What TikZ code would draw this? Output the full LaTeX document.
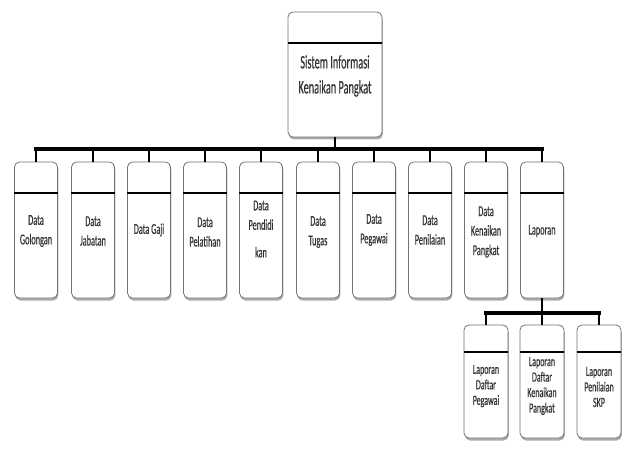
\documentclass[tikz,border=0pt]{standalone}
\usepackage{fontspec}
\usetikzlibrary{shadows}
\newfontfamily\condfont[FakeStretch=0.55,FakeBold=0.4]{Carlito}
\newfontfamily\topfont[FakeStretch=0.54,FakeBold=0.4]{Carlito}
\newfontfamily\subfont[FakeStretch=0.57,FakeBold=0.4]{Carlito}
\tikzset{
  box/.style={draw=black!55, line width=0.8pt, fill=white, rounded corners=5pt,
    drop shadow={shadow xshift=0.8pt, shadow yshift=-2.5pt, fill=black!60, opacity=0.55},
    minimum width=43pt, inner sep=0pt},
  topbox/.style={box, minimum width=94pt, minimum height=125pt},
  databox/.style={box, minimum height=136pt},
  subbox/.style={box, minimum width=44pt, minimum height=113pt},
  divider/.style={line width=1.5pt},
  bar/.style={line width=3.5pt, line cap=rect},
  conn/.style={line width=2.2pt},
  lbl/.style={align=center, inner sep=0pt, text=black!80, font=\condfont\fontsize{15}{19.5}\selectfont},
  toplbl/.style={lbl, font=\topfont\fontsize{19}{25}\selectfont},
  sublbl/.style={lbl, font=\subfont\fontsize{14}{15.5}\selectfont},
}
\begin{document}
\begin{tikzpicture}[x=1pt,y=1pt]
\useasboundingbox (0,0) rectangle (629,-457);
% top
\node[topbox] (top) at (335,-74.5) {};
\draw[divider] (top.west |- 0,-43) -- (top.east |- 0,-43);
\node[toplbl] (toptext) at (335,-76) {Sistem Informasi\\Kenaikan Pangkat};
\coordinate (bus) at (335,-149);
% data boxes
\foreach \n/\x in {gol/36, jab/93, gaj/149, pel/205, pen/261, tug/318, peg/374, pnl/430, kep/486, lap/542}{
  \node[databox] (\n) at (\x,-230) {};
  \draw[divider] (\n.west |- 0,-193) -- (\n.east |- 0,-193);
}
\node[lbl] (golt) at (36,-231) {Data\\Golongan};
\node[lbl] (jabt) at (93,-231) {Data\\Jabatan};
\node[lbl] (gajt) at (149,-230) {Data Gaji};
\node[lbl] (pelt) at (205,-232) {Data\\Pelatihan};
\node[lbl] (pent) at (261,-229) {Data\\Pendidi\\[8pt]kan};
\node[lbl] (tugt) at (318,-232) {Data\\Tugas};
\node[lbl] (pegt) at (374,-230) {Data\\Pegawai};
\node[lbl] (pnlt) at (430,-230) {Data\\Penilaian};
\node[lbl] (kept) at (486,-232) {Data\\Kenaikan\\Pangkat};
\node[lbl] (lapt) at (542,-231) {Laporan};
% connectors top level
\draw[conn] (top.south) -- (bus);
\draw[bar] (gol.north |- bus) -- (lap.north |- bus);
\foreach \n in {gol, jab, gaj, pel, pen, tug, peg, pnl, kep, lap}{
  \draw[conn] (\n.north) -- (\n.north |- bus);
}
% sub boxes
\coordinate (subbus) at (542,-313);
\foreach \n/\x in {ldp/486, ldk/542, lps/599}{
  \node[subbox] (\n) at (\x,-381.5) {};
  \draw[divider] (\n.west |- 0,-352) -- (\n.east |- 0,-352);
}
\node[sublbl] (ldpt) at (486,-386) {Laporan\\Daftar\\Pegawai};
\node[sublbl] (ldkt) at (542,-386) {Laporan\\Daftar\\Kenaikan\\Pangkat};
\node[sublbl] (lpst) at (599,-387) {Laporan\\Penilaian\\SKP};
\draw[conn] (lap.south) -- (subbus);
\draw[bar] (ldp.north |- subbus) -- (lps.north |- subbus);
\foreach \n in {ldp, ldk, lps}{
  \draw[conn] (\n.north) -- (\n.north |- subbus);
}
\end{tikzpicture}
\end{document}
